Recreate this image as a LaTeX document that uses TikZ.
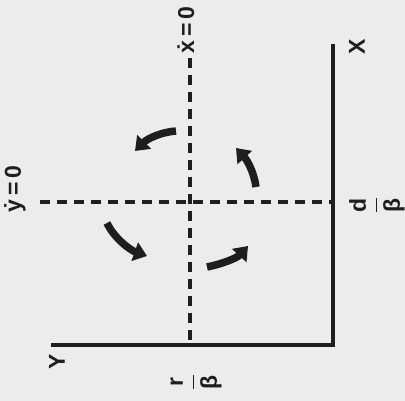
\documentclass[tikz,border=0pt]{standalone}
\usepackage{fontspec}
\setmainfont{Liberation Sans}
\usetikzlibrary{arrows.meta}
\definecolor{paper}{RGB}{236,236,236}
\definecolor{ink}{RGB}{30,30,30}
\tikzset{
  axisline/.style={ink, line width=3.4pt},
  nullcline/.style={ink, line width=3.2pt, dash pattern=on 10pt off 7pt},
  flowarrow/.style={ink, line width=7.5pt, -{Triangle[length=13pt,width=19pt]}},
  lbl/.style={ink, font=\bfseries\fontsize{23}{26}\selectfont, rotate=90, inner sep=0pt}
}
\begin{document}
\begin{tikzpicture}[x=1pt,y=-1pt]
\fill[paper] (0,0) rectangle (405,401);
\useasboundingbox (0,0) rectangle (405,401);
% axes
\coordinate (O) at (333,345);
\coordinate (xend) at (51,345);
\coordinate (yend) at (333,44);
\draw[axisline] (xend) -- (O) -- (yend);
% nullclines
\coordinate (vtop) at (190,58);
\coordinate (vbot) at (190,345);
\coordinate (hleft) at (40,202);
\coordinate (hright) at (333,202);
\draw[nullcline] (vtop) -- (vbot);
\draw[nullcline] (hleft) -- (hright);
% labels
\node[lbl] (lX) at (357,47) {X};
\node[lbl] (lY) at (57,362) {Y};
\node[lbl] (lxdot) at (186,30) {\.{x}\,=\,0};
\node[lbl] (lydot) at (15,189) {\.{y}\,=\,0};
\node[lbl] (ld) at (377,205) {$\displaystyle\frac{\hbox{d}}{\hbox{β}}$};
\node[lbl] (lr) at (196,382) {$\displaystyle\frac{\hbox{r}}{\hbox{β}}$};
% flow arrows
\coordinate (a1s) at (176,131);
\coordinate (a1e) at (135,151);
\coordinate (a2s) at (256,187);
\coordinate (a2e) at (236,148);
\coordinate (a3s) at (107,223);
\coordinate (a3e) at (147,256);
\coordinate (a4s) at (207,267);
\coordinate (a4e) at (248,246);
\draw[flowarrow] (a1s) .. controls (161,132) and (147,139) .. (a1e);
\draw[flowarrow] (a2s) .. controls (254,172) and (247,160) .. (a2e);
\draw[flowarrow] (a3s) .. controls (114,238) and (130,250) .. (a3e);
\draw[flowarrow] (a4s) .. controls (222,264) and (237,258) .. (a4e);
\end{tikzpicture}
\end{document}
